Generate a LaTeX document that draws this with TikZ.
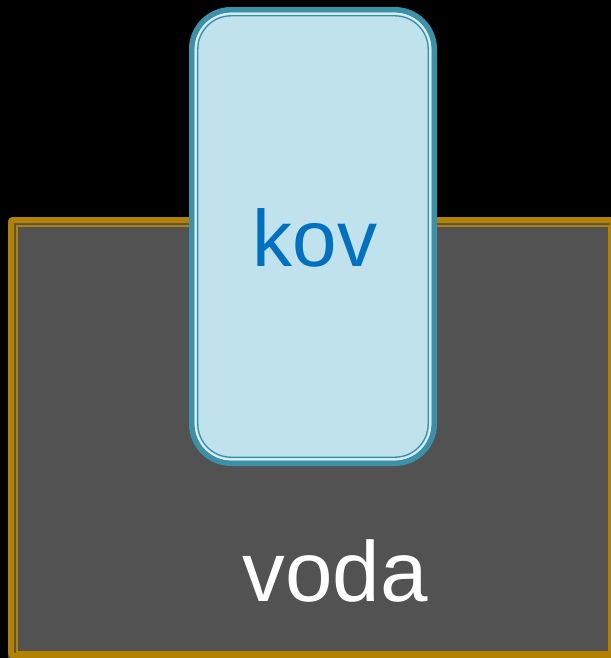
\documentclass[tikz,border=0pt]{standalone}
\usepackage{fontspec}
\setmainfont{Liberation Sans}
\definecolor{bgblack}{HTML}{000000}
\definecolor{watergrey}{HTML}{525252}
\definecolor{goldline}{HTML}{B38200}
\definecolor{tealline}{HTML}{3A91A8}
\definecolor{metalfill}{HTML}{C0E2EC}
\definecolor{metalgap}{HTML}{DCEFF5}
\definecolor{kovblue}{HTML}{0070C0}
\begin{document}
\begin{tikzpicture}[x=0.75pt,y=-0.75pt,
  goldthick/.style={draw=goldline,line width=4.5pt,rounded corners=2pt},
  goldthin/.style={draw=goldline,line width=1.5pt},
  tealthick/.style={draw=tealline,line width=4.2pt,rounded corners=29.5pt},
  tealthin/.style={draw=tealline,line width=1pt,rounded corners=25pt},
  lbl/.style={anchor=base,inner sep=0pt}]
\useasboundingbox (0,0) rectangle (611,658);
\fill[bgblack] (0,0) rectangle (611,658);
\clip (0,0) rectangle (611,658);
% water
\fill[watergrey,rounded corners=3pt] (8,217) rectangle (616,661);
\draw[goldthick] (11,220) rectangle (612.5,655.5);
\draw[goldthin] (17,226) rectangle (608.5,652);
\node[lbl,text=white,font=\fontsize{64}{64}\selectfont] (voda) at (335,601) {voda};
% metal
\draw[tealthick,fill=metalfill] (191.8,9.8) rectangle (434.2,463.2);
\draw[metalgap,line width=1.2pt,rounded corners=27pt] (195.5,13.5) rectangle (430.5,459.5);
\draw[tealthin] (197.8,15.8) rectangle (428.2,457.2);
\node[lbl,text=kovblue,font=\fontsize{60}{60}\selectfont] (kov) at (315,266) {kov};
\end{tikzpicture}
\end{document}
